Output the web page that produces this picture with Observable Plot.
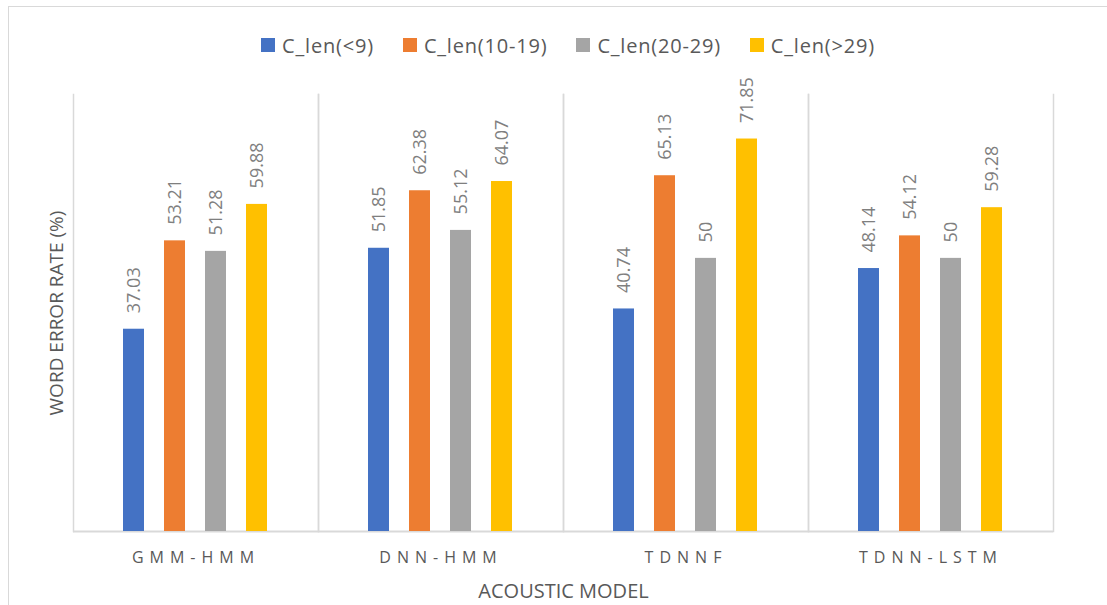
<!DOCTYPE html>
<html>
<head>
<meta charset="utf-8">
<script src="https://cdn.jsdelivr.net/npm/d3@7"></script>
<script src="https://cdn.jsdelivr.net/npm/@observablehq/plot@0.6"></script>
<style>
  body { margin: 0; background: #fff; font-family: "Open Sans", sans-serif; }
  #chart { position: relative; width: 1107px; height: 605px; overflow: hidden; }
  #border { position: absolute; left: 8px; top: 6px; width: 1200px; height: 700px;
            border-left: 1px solid #d9d9d9; border-top: 1px solid #d9d9d9; pointer-events: none; }
  #legend { height: 62px; box-sizing: border-box; padding-top: 28px; padding-left: 29px;
            display: flex; justify-content: center; align-items: center;
            font-size: 20px; letter-spacing: 0.8px; color: #595959; }
  .item { display: flex; align-items: center; margin: 0 14.5px; }
  .swatch { width: 14px; height: 14px; margin-right: 7px; }
  #plot svg g[aria-label="fx-axis tick label"] text { letter-spacing: 6px; }
  #plot svg g[aria-label="fx-axis label"] text { font-size: 20px; }
  #plot svg g[aria-label="y-axis label"] text { font-size: 19px; }
</style>
</head>
<body>
<div id="chart">
  <div id="border"></div>
  <div id="legend"></div>
  <div id="plot"></div>
</div>
<script>
// Acoustic models and sentence-length groups
const models = ["GMM-HMM", "DNN-HMM", "TDNNF", "TDNN-LSTM"];
const groups = ["C_len(<9)", "C_len(10-19)", "C_len(20-29)", "C_len(>29)"];

// Word error rate (%) per group, one value per model
const werShort    = [37.03, 51.85, 40.74, 48.14];
const werMid      = [53.21, 62.38, 65.13, 54.12];
const werLong     = [51.28, 55.12, 50, 50];
const werVeryLong = [59.88, 64.07, 71.85, 59.28];

const colors = ["#4472C4", "#ED7D31", "#A5A5A5", "#FFC000"];

const series = [werShort, werMid, werLong, werVeryLong];
const rows = [];
models.forEach((m, i) => {
  groups.forEach((g, j) => rows.push({model: m, group: g, value: series[j][i]}));
});

// Legend row
const legend = document.getElementById("legend");
groups.forEach((g, j) => {
  const item = document.createElement("div");
  item.className = "item";
  const sw = document.createElement("div");
  sw.className = "swatch";
  sw.style.background = colors[j];
  const label = document.createElement("span");
  label.textContent = g;
  item.append(sw, label);
  legend.append(item);
});

const chart = Plot.plot({
  width: 1107,
  height: 543,
  marginTop: 32,
  marginBottom: 74,
  marginLeft: 71,
  marginRight: 53,
  style: {fontFamily: "Open Sans, sans-serif", fontSize: "16px", color: "#595959", background: "transparent"},
  fx: {domain: models, padding: 0, label: "ACOUSTIC MODEL", labelAnchor: "center",
       tickSize: 0, tickPadding: 20, labelOffset: 66},
  x: {domain: groups, paddingInner: 0.476, paddingOuter: 1.164, axis: null},
  y: {domain: [0, 80], ticks: [], tickSize: 0, label: "WORD ERROR RATE (%)", labelArrow: "none",
      labelAnchor: "center", labelOffset: 24},
  color: {domain: groups, range: colors},
  marks: [
    Plot.frame({anchor: "left", stroke: "#d9d9d9", strokeWidth: 1.5}),
    Plot.frame({anchor: "right", stroke: "#d9d9d9", strokeWidth: 1.5}),
    Plot.ruleY([0], {stroke: "#d9d9d9", strokeWidth: 2}),
    Plot.barY(rows, {fx: "model", x: "group", y: "value", fill: "group"}),
    Plot.text(rows, {fx: "model", x: "group", y: "value", text: d => String(d.value),
                     rotate: -90, textAnchor: "start", dy: -16, fill: "#7f7f7f", fontSize: 18})
  ]
});
document.getElementById("plot").append(chart);
</script>
</body>
</html>
